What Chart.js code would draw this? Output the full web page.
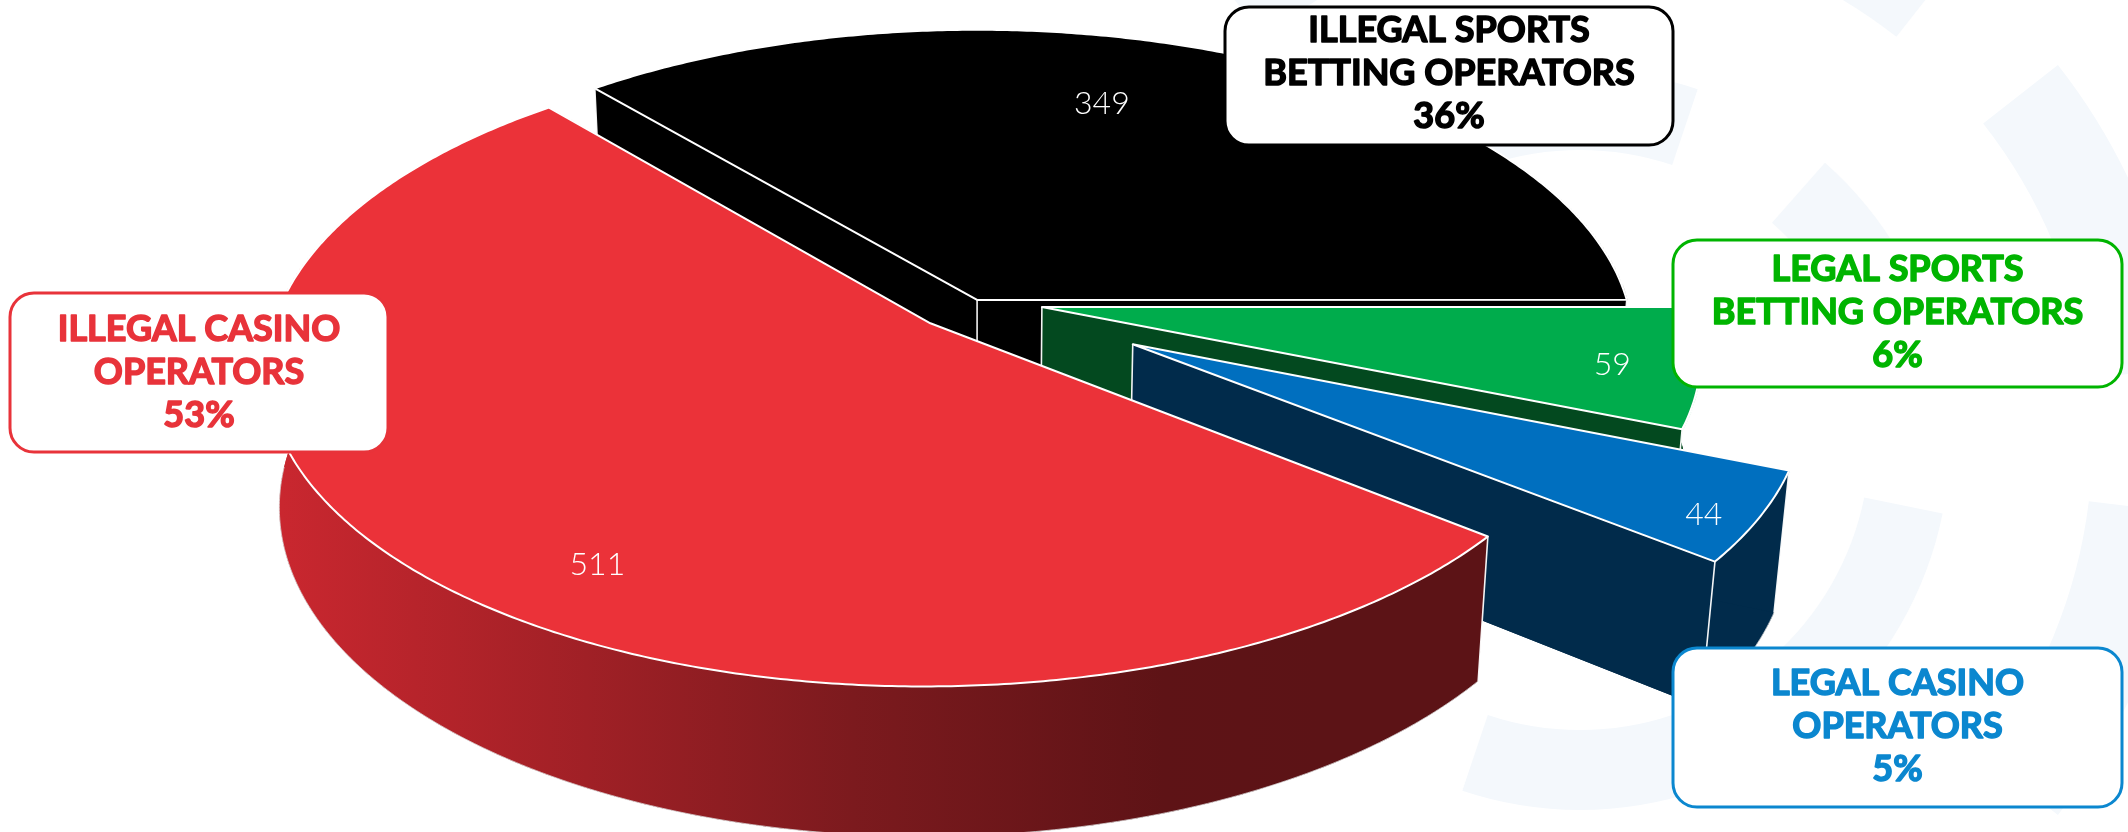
<!DOCTYPE html>
<html><head><meta charset="utf-8">
<script src="https://cdn.jsdelivr.net/npm/chart.js@4.4.1/dist/chart.umd.min.js"></script>
<style>
html,body{margin:0;padding:0;background:#fff;overflow:hidden;}
#chart{display:block;}
</style></head>
<body>
<canvas id="chart" width="2128" height="832" style="width:2128px;height:832px"></canvas>
<script>
// ---------------- data ----------------
const categories = ['Illegal casino operators', 'Illegal sports betting operators', 'Legal sports betting operators', 'Legal casino operators'];
const values = [511, 349, 59, 44];
const boxTitles = [['ILLEGAL CASINO', 'OPERATORS'], ['ILLEGAL SPORTS', 'BETTING OPERATORS'], ['LEGAL SPORTS', 'BETTING OPERATORS'], ['LEGAL CASINO', 'OPERATORS']];

// ---------------- style ----------------
const topColors = ['#eb3239', '#000000', '#00ac4c', '#006fbf'];
const wallColors = [null, '#000000', '#03491f', '#012b4b'];
const textColors = ['#e8333a', '#000000', '#00b400', '#0b87cf'];
const explode = [0.10, 0.004, 0.103, 0.274];
const valueLabelRadius = [0.83, 0.73, 0.87, 0.93];
const valueLabelTurn = [-11, -8, 1, 2];
const boxes = [
  {x: 10, y: 293, w: 378, h: 159, ty: 370.5},
  {x: 1225, y: 7, w: 448, h: 138, ty: 71.5},
  {x: 1673, y: 240, w: 449, h: 147, ty: 311},
  {x: 1673, y: 648, w: 449, h: 159, ty: 725}
];
const VIEW = {cx: 976, cy: 301, S: 650, tilt: 61.8, dist: 6.48, thick: 0.24};

const cphi = Math.cos(VIEW.tilt * Math.PI / 180), sphi = Math.sin(VIEW.tilt * Math.PI / 180);
function proj(X, Y, Z) {
  const y3 = Y * cphi - Z * sphi, z3 = Y * sphi + Z * cphi;
  const p = VIEW.dist / (VIEW.dist - z3);
  return [VIEW.cx + VIEW.S * X * p, VIEW.cy + VIEW.S * y3 * p];
}
function invY(yScreen) {
  const u = (yScreen - VIEW.cy) / (VIEW.S * cphi);
  return u * VIEW.dist / (VIEW.dist + u * sphi);
}
function arcPts(g) {
  const n = Math.max(8, Math.ceil((g.e - g.s) / (Math.PI / 360)));
  const pts = [];
  for (let k = 0; k <= n; k++) {
    const t = g.s + (g.e - g.s) * k / n;
    pts.push([g.ex + Math.cos(t), g.ey + Math.sin(t), t]);
  }
  return pts;
}
function pathPoly(ctx, list) {
  ctx.beginPath();
  list.forEach((P, k) => k ? ctx.lineTo(P[0], P[1]) : ctx.moveTo(P[0], P[1]));
}

const pie3d = {
  id: 'pie3d',
  beforeDraw(chart) {
    const ctx = chart.ctx;
    ctx.save();
    ctx.fillStyle = '#ffffff';
    ctx.fillRect(0, 0, chart.width, chart.height);
    // faint watermark ring
    ctx.strokeStyle = '#f4f8fc';
    ctx.lineWidth = 95;
    for (let k = 0; k < 8; k++) {
      const a0 = k * Math.PI / 4 + 0.12, a1 = a0 + Math.PI / 4 - 0.24;
      ctx.beginPath(); ctx.arc(1580, 440, 560, a0, a1); ctx.stroke();
    }
    ctx.lineWidth = 80;
    for (let k = 0; k < 6; k++) {
      const a0 = k * Math.PI / 3 + 0.2, a1 = a0 + Math.PI / 3 - 0.4;
      ctx.beginPath(); ctx.arc(1580, 440, 330, a0, a1); ctx.stroke();
    }
    ctx.restore();
  },
  beforeDatasetsDraw(chart) {
    const ctx = chart.ctx;
    const arcs = chart.getDatasetMeta(0).data;
    const T = VIEW.thick;
    const geo = arcs.map((a, i) => {
      const m = (a.startAngle + a.endAngle) / 2;
      return {a, i, s: a.startAngle, e: a.endAngle, m, ex: Math.cos(m) * explode[i], ey: Math.sin(m) * explode[i]};
    });
    const order = geo.slice().sort((p, q) => Math.sin(p.m) - Math.sin(q.m));
    ctx.save();
    ctx.lineJoin = 'round';
    // ---- walls (back to front) ----
    for (const g of order) {
      const pts = arcPts(g);
      let fill = wallColors[g.i];
      if (!fill) {
        const gr = ctx.createLinearGradient(282, 0, 1320, 0);
        gr.addColorStop(0, '#c9272f');
        gr.addColorStop(0.55, '#7c1a1e');
        gr.addColorStop(0.85, '#5e1316');
        gr.addColorStop(1, '#5c1316');
        fill = gr;
      }
      ctx.fillStyle = fill;
      const c = [g.ex, g.ey];
      // bottom face
      pathPoly(ctx, [proj(c[0], c[1], -T)].concat(pts.map(q => proj(q[0], q[1], -T))));
      ctx.closePath(); ctx.fill();
      // outer wall
      const top = pts.map(q => proj(q[0], q[1], 0));
      const bot = pts.map(q => proj(q[0], q[1], -T)).reverse();
      pathPoly(ctx, top.concat(bot)); ctx.closePath(); ctx.fill();
      // cut faces
      for (const q of [pts[0], pts[pts.length - 1]]) {
        pathPoly(ctx, [proj(c[0], c[1], 0), proj(q[0], q[1], 0), proj(q[0], q[1], -T), proj(c[0], c[1], -T)]);
        ctx.closePath(); ctx.fill();
      }
      // light edges
      ctx.strokeStyle = 'rgba(255,255,255,0.95)';
      ctx.lineWidth = 1.6;
      ctx.beginPath();
      for (const q of [c, pts[0], pts[pts.length - 1]]) {
        const A = proj(q[0], q[1], 0), B = proj(q[0], q[1], -T);
        ctx.moveTo(A[0], A[1]); ctx.lineTo(B[0], B[1]);
      }
      ctx.stroke();
      // faint bottom rim on the front-facing part only
      ctx.strokeStyle = 'rgba(220,220,220,0.8)';
      ctx.lineWidth = 1;
      ctx.beginPath();
      let pen = false;
      for (const q of pts) {
        if (Math.sin(q[2]) > 0.02) {
          const B = proj(q[0], q[1], -T);
          if (pen) ctx.lineTo(B[0], B[1]); else { ctx.moveTo(B[0], B[1]); pen = true; }
        } else pen = false;
      }
      ctx.stroke();
    }
    // ---- top faces: drawn by Chart.js arcs on the pie plane, then projected row by row ----
    const R = arcs[0].outerRadius;
    const ox = Math.ceil(1.25 * R), oy = Math.ceil(1.15 * R);
    const W = Math.ceil(2.6 * R), H = Math.ceil(2.35 * R);
    const off = document.createElement('canvas');
    off.width = W; off.height = H;
    const oc = off.getContext('2d');
    for (const g of geo) {
      oc.save();
      oc.translate(ox - g.a.x + g.ex * R, oy - g.a.y + g.ey * R);
      g.a.draw(oc);
      oc.restore();
    }
    const yTop = Math.floor(proj(0, -oy / R, 0)[1]);
    const yBot = Math.ceil(proj(0, (H - oy) / R, 0)[1]);
    ctx.imageSmoothingEnabled = true;
    for (let y = Math.max(0, yTop); y < Math.min(chart.height, yBot); y++) {
      const Y0 = invY(y), Y1 = invY(y + 1);
      let v0 = oy + Y0 * R, v1 = oy + Y1 * R;
      if (v1 <= 0 || v0 >= H) continue;
      v0 = Math.max(0, v0); v1 = Math.min(H, v1);
      if (v1 - v0 <= 0) continue;
      const Ym = (Y0 + Y1) / 2;
      const p = VIEW.dist / (VIEW.dist - Ym * sphi);
      const k = VIEW.S * p / R;
      ctx.drawImage(off, 0, v0, W, v1 - v0, VIEW.cx - ox * k, y, W * k, 1);
    }
    // ---- top borders ----
    ctx.strokeStyle = '#ffffff';
    ctx.lineWidth = 2;
    for (const g of geo) {
      const pts = arcPts(g);
      const c = proj(g.ex, g.ey, 0);
      pathPoly(ctx, [c].concat(pts.map(q => proj(q[0], q[1], 0))));
      ctx.closePath();
      ctx.stroke();
    }
    ctx.restore();
    chart.$geo = geo;
    return false;
  },
  afterDraw(chart) {
    const ctx = chart.ctx;
    const geo = chart.$geo || [];
    const total = values.reduce((s, v) => s + v, 0);
    ctx.save();
    // value labels
    ctx.fillStyle = '#ffffff';
    ctx.font = '300 32px Lato';
    ctx.textAlign = 'center';
    ctx.textBaseline = 'middle';
    for (const g of geo) {
      const t = g.m + valueLabelTurn[g.i] * Math.PI / 180;
      const r = valueLabelRadius[g.i];
      const P = proj(g.ex + r * Math.cos(t), g.ey + r * Math.sin(t), 0);
      ctx.fillText(String(values[g.i]), P[0], P[1]);
    }
    // callout boxes
    boxes.forEach((b, i) => {
      ctx.beginPath();
      ctx.roundRect(b.x, b.y, b.w, b.h, 24);
      ctx.fillStyle = '#ffffff';
      ctx.fill();
      ctx.lineWidth = 3;
      ctx.strokeStyle = textColors[i];
      ctx.stroke();
      const lines = boxTitles[i].concat([Math.round(values[i] / total * 100) + '%']);
      ctx.fillStyle = textColors[i];
      ctx.strokeStyle = textColors[i];
      ctx.lineWidth = 1.5;
      ctx.lineJoin = 'round';
      ctx.font = 'bold 36px Lato';
      ctx.textAlign = 'center';
      ctx.textBaseline = 'alphabetic';
      lines.forEach((ln, j) => {
        const ty = b.ty + (j - 1) * 43 + 13;
        ctx.fillText(ln, b.x + b.w / 2, ty);
        ctx.strokeText(ln, b.x + b.w / 2, ty);
      });
    });
    ctx.restore();
  }
};

new Chart(document.getElementById('chart'), {
  type: 'pie',
  data: {
    labels: categories,
    datasets: [{data: values, backgroundColor: topColors, borderWidth: 0}]
  },
  options: {
    responsive: false,
    animation: false,
    devicePixelRatio: 1,
    rotation: 128.5,
    events: [],
    layout: {padding: 0},
    plugins: {legend: {display: false}, tooltip: {enabled: false}}
  },
  plugins: [pie3d]
});
</script>
</body></html>
